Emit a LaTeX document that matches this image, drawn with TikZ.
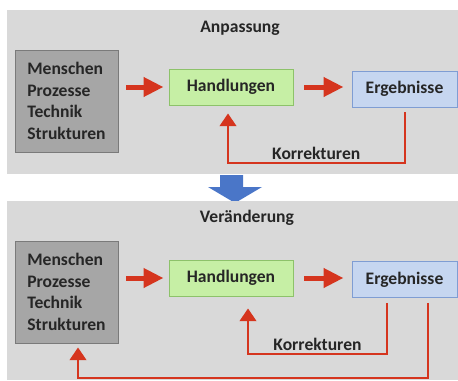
\documentclass[tikz,border=0pt]{standalone}
\usepackage{fontspec}
\setmainfont{Carlito}
\usetikzlibrary{arrows.meta}
\definecolor{panelgray}{HTML}{D9D9D9}
\definecolor{boxgray}{HTML}{A6A6A6}
\definecolor{boxgrayline}{HTML}{7A7A7A}
\definecolor{handfill}{HTML}{C6EFA5}
\definecolor{handline}{HTML}{8DC26A}
\definecolor{ergfill}{HTML}{C6D6F0}
\definecolor{ergline}{HTML}{7F9DD3}
\definecolor{redc}{HTML}{D5351E}
\definecolor{bluec}{HTML}{4A76C8}

\begin{document}
\begin{tikzpicture}[x=0.03cm, y=0.03cm,
	every node/.style={font=\bfseries\fontsize{15}{18.5}\selectfont, text=black!85},
	box/.style={draw, line width=0.8pt, minimum height=1.08cm, inner sep=0pt},
	greybox/.style={box, draw=boxgrayline, fill=boxgray, minimum width=3.09cm, minimum height=3.06cm, align=left},
	handbox/.style={box, draw=handline, fill=handfill, minimum width=3.72cm},
	ergbox/.style={box, draw=ergline, fill=ergfill, minimum width=3.15cm},
	flow/.style={draw=redc, line width=0.15cm, -{Triangle[length=0.6cm, width=0.56cm]}},
	fb/.style={draw=redc, line width=0.06cm, -{Triangle[length=0.38cm, width=0.5cm]}},
	lab/.style={inner sep=2pt}]
	\useasboundingbox (0,0) rectangle (458,380);
	% Anpassung
	\fill[panelgray] (7,206) rectangle (458,370);
	\node (t1) at (240,352) {Anpassung};
	\node[greybox] (m1) at (66.5,279) {Menschen\\Prozesse\\Technik\\Strukturen};
	\node[handbox] (h1) at (231,293) {Handlungen};
	\node[ergbox] (e1) at (404.5,291) {Ergebnisse};
	\draw[flow, shorten <=0.24cm, shorten >=0.15cm] (m1.east |- h1) -- (h1);
	\draw[flow, shorten <=0.33cm, shorten >=0.24cm] (h1) -- (h1 -| e1.west);
	\coordinate (k1) at (228,217);
	\draw[fb] ([yshift=-0.15cm]e1.south) |- (k1) node[pos=0.75, above, lab] {Korrekturen}
		-- ([yshift=-0.24cm]h1.south -| k1);
	% Pfeil
	\fill[bluec] (220,205) -- (243,205) -- (243,193) -- (262,193) -- (235,177) -- (208,193) -- (220,193) -- cycle;
	% Veraenderung
	\fill[panelgray] (7,0) rectangle (458,179);
	\node (t2) at (247,162) {Veränderung};
	\node[greybox] (m2) at (66.5,88) {Menschen\\Prozesse\\Technik\\Strukturen};
	\node[handbox] (h2) at (231,102) {Handlungen};
	\node[ergbox] (e2) at (404.5,100.5) {Ergebnisse};
	\draw[flow, shorten <=0.24cm, shorten >=0.15cm] (m2.east |- h2) -- (h2);
	\draw[flow, shorten <=0.33cm, shorten >=0.24cm] (h2) -- (h2 -| e2.west);
	\coordinate (k2) at (248,26);
	\draw[fb] ([xshift=-0.525cm, yshift=-0.15cm]e2.south) |- (k2) node[pos=0.75, above, lab] {Korrekturen}
		-- ([yshift=-0.36cm]h2.south -| k2);
	\coordinate (k3) at (78,2);
	\draw[fb] ([xshift=0.705cm, yshift=-0.15cm]e2.south) |- (k3)
		-- ([yshift=-0.12cm]m2.south -| k3);
\end{tikzpicture}
\end{document}
